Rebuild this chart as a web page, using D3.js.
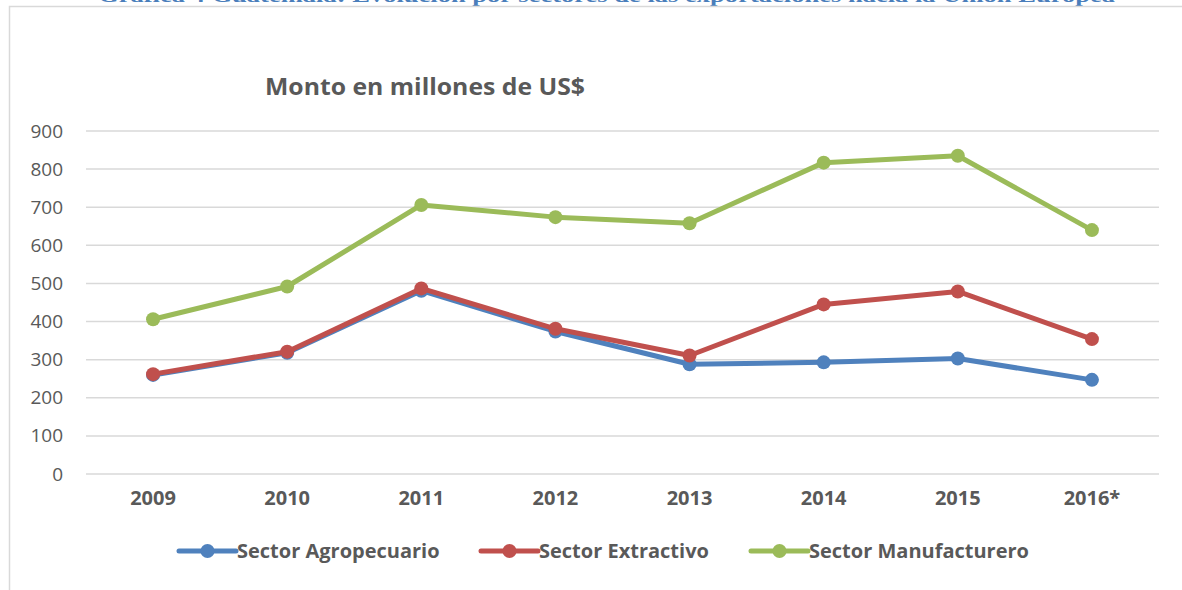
<!DOCTYPE html>
<html>
<head>
<meta charset="utf-8">
<script src="https://cdn.jsdelivr.net/npm/d3@7"></script>
<style>
	body { margin: 0; background: #fff; }
	svg { display: block; }
</style>
</head>
<body>
<script>
//data
const years = ["2009", "2010", "2011", "2012", "2013", "2014", "2015", "2016*"];
const agropecuario = [260, 318, 481, 374, 288, 293, 303, 247];
const extractivo = [262, 321, 487, 381, 311, 445, 479, 354];
const manufacturero = [406, 492, 706, 674, 658, 817, 835, 640];
const yTicks = [0, 100, 200, 300, 400, 500, 600, 700, 800, 900];

const seriesNames = ["Sector Agropecuario", "Sector Extractivo", "Sector Manufacturero"];
const seriesColors = ["#4f81bd", "#c0504d", "#9bbb59"];

//width and height of svg
const width = 1182;
const height = 590;

const series = [agropecuario, extractivo, manufacturero].map((values, i) => ({
	name: seriesNames[i],
	color: seriesColors[i],
	values: values
}));

let svg = d3.select("body").append("svg");
svg = svg.attr("width", width).attr("height", height);

//document caption, its top half is cut off by the picture edge (as in the source)
svg.append("text")
	.attr("x", 98)
	.attr("y", 2)
	.attr("textLength", 1017)
	.attr("lengthAdjust", "spacingAndGlyphs")
	.style("font", "bold 19px 'Liberation Serif', serif")
	.style("fill", "#4a7ebb")
	.text("Gráfica 4 Guatemala: Evolución por sectores de las exportaciones hacia la Unión Europea");

//chart area border (runs off the right and bottom edge)
svg.append("rect")
	.attr("x", 9.5)
	.attr("y", 6.5)
	.attr("width", 1300)
	.attr("height", 700)
	.attr("fill", "none")
	.attr("stroke", "#d9d9d9")
	.attr("stroke-width", 1.5);

//scales
const x = d3.scaleBand().domain(years).range([86, 1159]);
const y = d3.scaleLinear().domain([0, 900]).range([474, 131]);

//gridlines
svg.append("g")
	.selectAll("line")
	.data(yTicks)
	.join("line")
	.attr("x1", 86)
	.attr("x2", 1159)
	.attr("y1", d => y(d))
	.attr("y2", d => y(d))
	.attr("stroke", "#d9d9d9")
	.attr("stroke-width", 1.5);

//y axis labels
const yAxis = svg.append("g")
	.attr("transform", "translate(63,0)")
	.call(d3.axisLeft(y).tickValues(yTicks).tickSize(0).tickPadding(0));
yAxis.select(".domain").remove();
yAxis.selectAll("text")
	.style("font", "19px 'Open Sans', sans-serif")
	.style("fill", "#595959");

//x axis labels
const xAxis = svg.append("g")
	.attr("transform", "translate(0,491)")
	.call(d3.axisBottom(x).tickSize(0).tickPadding(0));
xAxis.select(".domain").remove();
xAxis.selectAll("text")
	.style("font", "bold 20px 'Open Sans', sans-serif")
	.style("fill", "#595959");

//chart title
svg.append("text")
	.attr("x", 265)
	.attr("y", 95)
	.attr("textLength", 320)
	.attr("lengthAdjust", "spacingAndGlyphs")
	.style("font", "bold 23px 'Open Sans', sans-serif")
	.style("fill", "#595959")
	.text("Monto en millones de US$");

//lines and markers
const line = d3.line()
	.x((d, i) => x(years[i]) + x.bandwidth() / 2)
	.y(d => y(d));

const seriesGroup = svg.append("g")
	.selectAll("g")
	.data(series)
	.join("g");

seriesGroup.append("path")
	.attr("d", s => line(s.values))
	.attr("fill", "none")
	.attr("stroke", s => s.color)
	.attr("stroke-width", 5)
	.attr("stroke-linejoin", "round");

seriesGroup.selectAll("circle")
	.data(s => s.values.map((v, i) => ({v: v, i: i, color: s.color})))
	.join("circle")
	.attr("cx", d => x(years[d.i]) + x.bandwidth() / 2)
	.attr("cy", d => y(d.v))
	.attr("r", 7)
	.attr("fill", d => d.color);

//legend
const legendX = [179, 481, 751];
let legend = svg.append("g")
	.selectAll("g")
	.data(series)
	.join("g")
	.attr("transform", (s, i) => `translate(${legendX[i]},551)`);

legend.append("line")
	.attr("x1", 0)
	.attr("x2", 57)
	.attr("stroke", s => s.color)
	.attr("stroke-width", 5)
	.attr("stroke-linecap", "round");
legend.append("circle")
	.attr("cx", 28.5)
	.attr("r", 7)
	.attr("fill", s => s.color);
legend.append("text")
	.attr("x", 58)
	.attr("dy", "0.35em")
	.style("font", "bold 20px 'Open Sans', sans-serif")
	.style("fill", "#595959")
	.text(s => s.name);
</script>
</body>
</html>
